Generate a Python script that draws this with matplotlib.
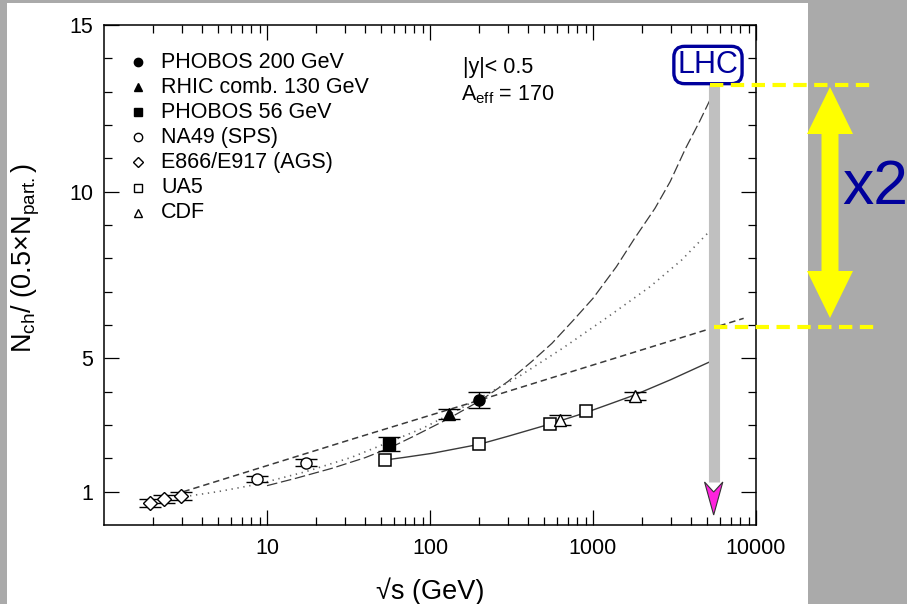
import matplotlib
matplotlib.use("Agg")
import matplotlib.pyplot as plt
from matplotlib.lines import Line2D
from matplotlib.patches import Rectangle, Polygon
import matplotlib.transforms as mtransforms

plt.rcParams["font.family"] = ["Liberation Sans", "DejaVu Sans"]
plt.rcParams["mathtext.fontset"] = "custom"
plt.rcParams["mathtext.rm"] = "Liberation Sans"
plt.rcParams["mathtext.it"] = "Liberation Sans:italic"
plt.rcParams["mathtext.default"] = "regular"

W, H = 907, 604

# ── measured points (sqrt(s) in GeV, Nch / (0.5 Npart)) ──────────────────
phobos200_x, phobos200_y, phobos200_err = [200], [3.75], [0.25]
rhic130_x, rhic130_y, rhic130_err = [130], [3.33], [0.15]
phobos56_x, phobos56_y, phobos56_err = [56], [2.43], [0.22]
na49_x, na49_y, na49_err = [8.7, 17.3], [1.38, 1.87], [0.09, 0.1]
ags_x, ags_y, ags_err = [1.92, 2.32, 2.95], [0.67, 0.78, 0.88], [0.12, 0.12, 0.12]
ua5_x, ua5_y, ua5_err = [53, 200, 546, 900], [1.95, 2.42, 3.03, 3.42], [0.03, 0.03, 0.04, 0.05]
cdf_x, cdf_y, cdf_err = [630, 1800], [3.15, 3.87], [0.15, 0.13]

# ── curves ───────────────────────────────────────────────────────────────
longdash_x = [10, 15, 25, 40, 57, 80, 131, 206, 300, 420, 560, 760, 1000, 1392,
              1800, 2400, 2974, 3700, 4500, 5400]
longdash_y = [1.18, 1.4, 1.7, 2.02, 2.32, 2.67, 3.2, 3.75, 4.3, 4.9, 5.45, 6.15, 6.8, 7.75,
              8.6, 9.5, 10.3, 11.3, 12.1, 12.9]
dotted_x = [3.1, 5, 8.7, 17.3, 33, 57, 90, 130, 200, 350, 650, 1200, 2240, 3500, 5400]
dotted_y = [0.85, 1.0, 1.22, 1.6, 2.03, 2.5, 2.9, 3.3, 3.8, 4.45, 5.3, 6.2, 7.15, 7.95, 8.9]
shortdash_x = [3.07, 33, 200, 653, 8400]
shortdash_y = [1.0, 2.57, 3.74, 4.52, 6.2]
solid_x = [53, 70, 103, 200, 300, 546, 900, 1300, 1800, 3000, 5400]
solid_y = [1.95, 2.03, 2.15, 2.42, 2.66, 3.03, 3.37, 3.65, 3.9, 4.36, 4.93]

lhc_energy = 5500
lhc_high, lhc_low = 13.2, 5.95

legend_labels = ["PHOBOS 200 GeV", "RHIC comb. 130 GeV", "PHOBOS 56 GeV",
                 "NA49 (SPS)", "E866/E917 (AGS)", "UA5", "CDF"]
legend_markers = ["o", "^", "s", "o", "D", "s", "^"]
legend_filled = [True, True, True, False, False, False, False]

NAVY = "#00009c"
LINE = "#3a3a3a"


def px(x, y):
    # image pixel -> figure fraction
    return x / W, 1 - y / H


fig = plt.figure(figsize=(W / 100, H / 100), dpi=100, facecolor="#aaaaaa")
fig.patches.append(Rectangle(px(7, 604), 801 / W, 601 / H, transform=fig.transFigure,
                             facecolor="white", edgecolor="none", zorder=-5))

x0, y0 = px(104, 525)
ax = fig.add_axes([x0, y0, 652 / W, 500 / H])
ax.set_xscale("log")
ax.set_xlim(1, 10000)
ax.set_ylim(0, 15)

# curves
ax.plot(longdash_x, longdash_y, color=LINE, lw=0.9, dashes=(8.5, 3), zorder=2)
ax.plot(dotted_x, dotted_y, color="#666666", lw=1.2, dashes=(0.8, 2.8), zorder=2)
ax.plot(shortdash_x, shortdash_y, color=LINE, lw=1.1, dashes=(4.2, 2.6), zorder=2)
ax.plot(solid_x, solid_y, color=LINE, lw=1.0, zorder=2)

ebkw = dict(ls="none", ecolor="black", elinewidth=1.0, capthick=1.0, zorder=4)
ax.errorbar(ags_x, ags_y, yerr=ags_err, marker="D", ms=7, mfc="white", mec="black",
            mew=1.0, capsize=8, **ebkw)
ax.errorbar(na49_x, na49_y, yerr=na49_err, marker="o", ms=8, mfc="white", mec="black",
            mew=1.0, capsize=8, **ebkw)
ax.errorbar(ua5_x, ua5_y, yerr=ua5_err, marker="s", ms=9, mfc="white", mec="black",
            mew=1.1, capsize=4, **ebkw)
ax.errorbar(cdf_x, cdf_y, yerr=cdf_err, marker="^", ms=8, mfc="white", mec="black",
            mew=1.0, capsize=8, **ebkw)
ax.errorbar(phobos56_x, phobos56_y, yerr=phobos56_err, marker="s", ms=8, mfc="black",
            mec="black", capsize=8, **ebkw)
ax.errorbar(rhic130_x, rhic130_y, yerr=rhic130_err, marker="^", ms=8, mfc="black",
            mec="black", capsize=8, **ebkw)
ax.errorbar(phobos200_x, phobos200_y, yerr=phobos200_err, marker="o", ms=8, mfc="black",
            mec="black", capsize=8, **ebkw)

# LHC marker: grey bar + magenta arrowhead
bar_bottom = 1.29
ax.plot([lhc_energy, lhc_energy], [bar_bottom, lhc_high + 0.1], color="#c0c0c0", lw=8,
        solid_capstyle="butt", zorder=5)
hw = 10 ** 0.056
ax.fill([lhc_energy / hw, lhc_energy, lhc_energy * hw, lhc_energy],
        [bar_bottom, 0.99, bar_bottom, 0.3], facecolor="#ff22dd", edgecolor="#333333",
        lw=0.8, zorder=6)
ax.text(lhc_energy / 10 ** 0.035, 13.8, "LHC", fontsize=22, color=NAVY, ha="center",
        va="center", zorder=7,
        bbox=dict(boxstyle="round,pad=0.12,rounding_size=0.35", fc="white", ec=NAVY, lw=2.4))

# axes styling
ax.set_xticks([10, 100, 1000, 10000])
ax.set_xticklabels(["10", "100", "1000", "10000"])
ax.set_yticks([1, 5, 10, 15])
ax.set_yticks([2, 3, 4, 6, 7, 8, 9, 11, 12, 13, 14], minor=True)
ax.tick_params(which="both", direction="in", top=True, right=True, labelsize=15.5,
               width=0.9, colors="black")
ax.tick_params(which="major", length=11, pad=8)
ax.tick_params(which="minor", length=5.5)
ax.tick_params(axis="x", which="major", pad=9)
for s in ax.spines.values():
    s.set_linewidth(1.1)

ax.set_xlabel("√s (GeV)", fontsize=19.5)
ax.xaxis.set_label_coords(0.5, -0.105)
ax.set_ylabel("N$_{ch}$/ (0.5×N$_{part.}$)", fontsize=19.5)
ax.yaxis.set_label_coords(-0.095, 0.534)

# legend drawn by hand
for i, (lab, mk, filled) in enumerate(zip(legend_labels, legend_markers, legend_filled)):
    ly = 1 - (62 - 25 + i * 25.1) / 500
    ax.plot([(138 - 104) / 652], [ly], marker=mk, ms=6 if mk != "D" else 5,
            mfc="black" if filled else "white", mec="black", mew=1.0,
            transform=ax.transAxes, clip_on=False, ls="none")
    ax.text((161 - 104) / 652, ly, lab, transform=ax.transAxes, fontsize=15.5,
            va="center", ha="left")

ax.text((463 - 104) / 652, 1 - (67 - 25) / 500, "|y|< 0.5", transform=ax.transAxes,
        fontsize=15.5, va="center", ha="left")
ax.text((461 - 104) / 652, 1 - (95 - 25) / 500, "A$_{eff}$ = 170", transform=ax.transAxes,
        fontsize=15.5, va="center", ha="left")

# yellow guide lines (y in data, x in figure)
blend = mtransforms.blended_transform_factory(fig.transFigure, ax.transData)
for yv, xa, xb in [(lhc_high, 710, 873), (lhc_low, 714, 877)]:
    fig.lines.append(Line2D([xa / W, xb / W], [yv, yv], transform=blend, color="#ffff00",
                            lw=3, dashes=(3.2, 1.8), zorder=10))

# yellow double arrow
cx, top, bot, hl, hwid, sw = 830, 87, 318, 47, 23, 8.5
pts = [(cx, top), (cx + hwid, top + hl), (cx + sw, top + hl), (cx + sw, bot - hl),
       (cx + hwid, bot - hl), (cx, bot), (cx - hwid, bot - hl), (cx - sw, bot - hl),
       (cx - sw, top + hl), (cx - hwid, top + hl)]
fig.patches.append(Polygon([px(a, b) for a, b in pts], closed=True, transform=fig.transFigure,
                           facecolor="#ffff00", edgecolor="none", zorder=10))
fig.text(842 / W, 1 - 187 / H, "x2", fontsize=45, color=NAVY, ha="left", va="center")

fig.savefig("out.png", dpi=100, facecolor=fig.get_facecolor())
